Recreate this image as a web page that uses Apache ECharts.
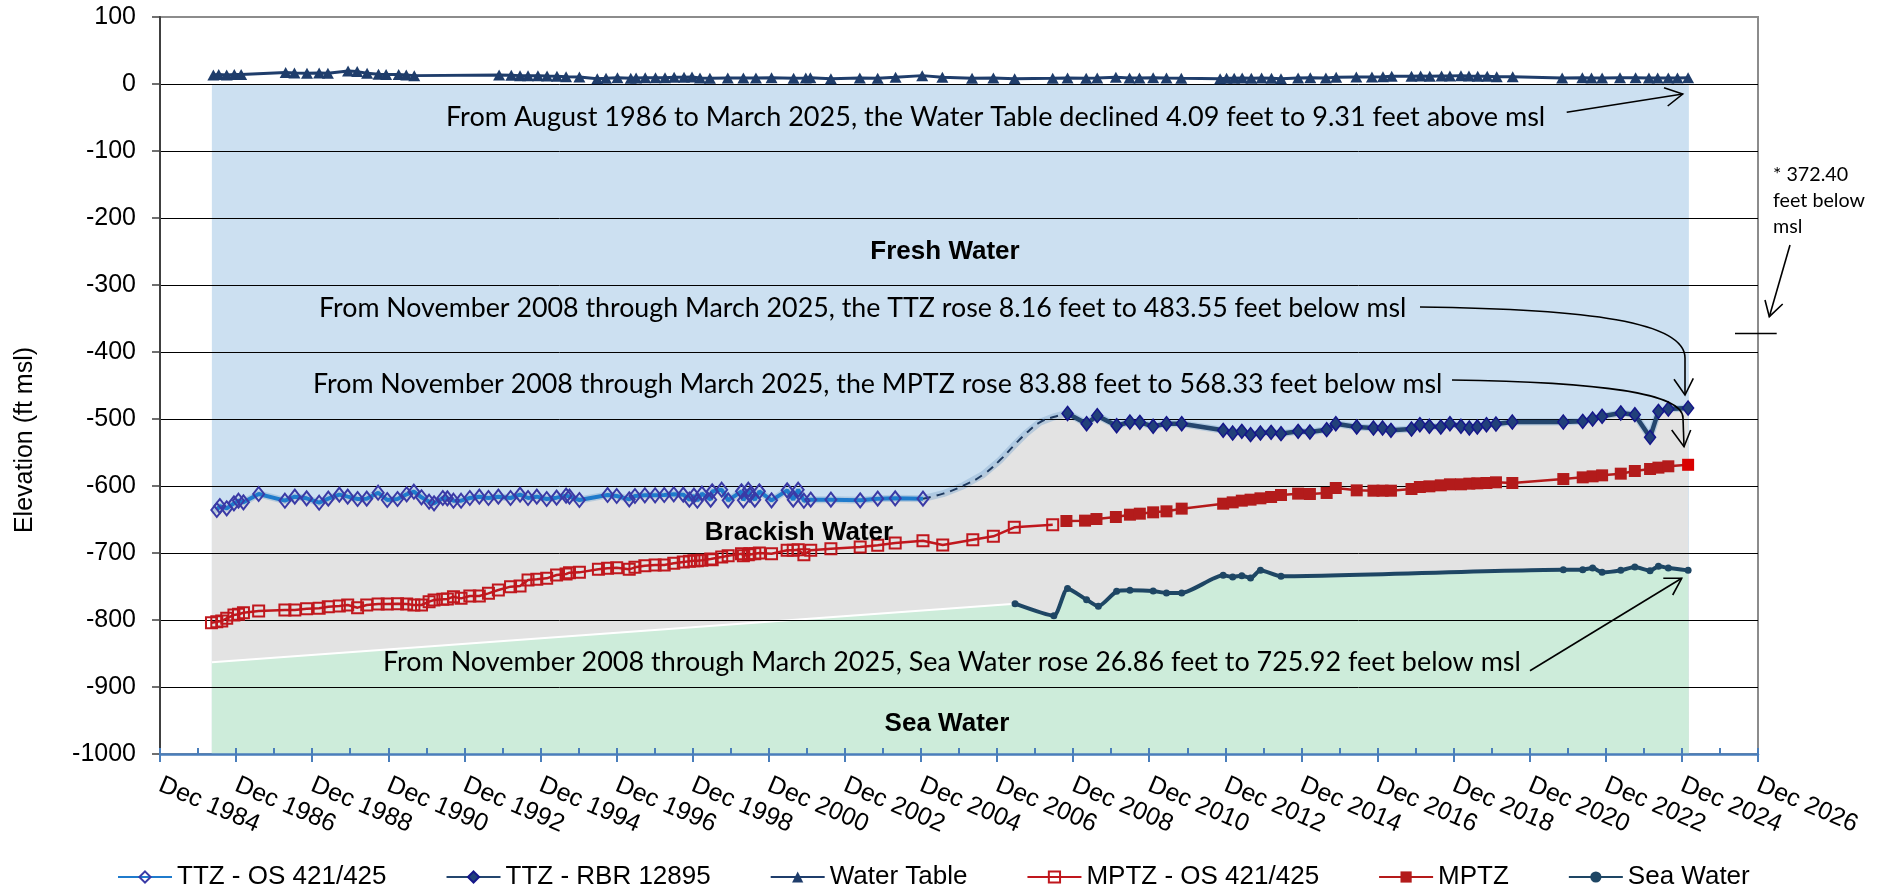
<!DOCTYPE html>
<html><head><meta charset="utf-8">
<script src="https://cdn.jsdelivr.net/npm/echarts@6/dist/echarts.min.js"></script>
<style>html,body{margin:0;padding:0;background:#fff}#c{width:1887px;height:889px}</style>
</head><body><div id="c"></div>
<script>
// ---------------- DATA (decimal years, elevation ft msl) ----------------
const axisStartYear = 1984.917;          // Dec 1984
const xTickLabels = ['Dec 1984','Dec 1986','Dec 1988','Dec 1990','Dec 1992','Dec 1994','Dec 1996','Dec 1998','Dec 2000','Dec 2002','Dec 2004','Dec 2006','Dec 2008','Dec 2010','Dec 2012','Dec 2014','Dec 2016','Dec 2018','Dec 2020','Dec 2022','Dec 2024','Dec 2026'];
const yMin = -1000, yMax = 100, yStep = 100;

const zoneStart = 1986.28, zoneEnd = 2025.1;
const freshTop = 0;
const seaBoundaryStart = -863;
const seaLevelMark = -372.40;

const ttzOs = [[1986.41,-635.8],[1986.49,-629.9],[1986.67,-633.3],[1986.86,-625.9],[1986.98,-621.9],[1987.11,-624.4],[1987.51,-611.9],[1988.20,-621.9],[1988.46,-615.9],[1988.77,-618.4],[1989.10,-624.9],[1989.34,-618.9],[1989.63,-612.9],[1989.85,-615.9],[1990.11,-619.4],[1990.35,-618.9],[1990.65,-610.0],[1990.89,-620.9],[1991.16,-619.4],[1991.40,-612.4],[1991.59,-608.5],[1991.79,-616.9],[1991.99,-623.4],[1992.12,-625.9],[1992.35,-617.9],[1992.47,-618.4],[1992.63,-621.9],[1992.83,-621.9],[1993.06,-617.9],[1993.31,-615.9],[1993.55,-617.9],[1993.81,-615.9],[1994.13,-617.9],[1994.38,-612.9],[1994.59,-617.9],[1994.82,-615.9],[1995.08,-619.4],[1995.34,-617.4],[1995.59,-614.4],[1995.68,-615.9],[1995.94,-620.9],[1996.68,-613.4],[1996.92,-614.9],[1997.25,-619.9],[1997.40,-614.9],[1997.66,-613.9],[1997.93,-613.9],[1998.17,-613.4],[1998.42,-612.4],[1998.67,-612.9],[1998.83,-620.4],[1998.95,-614.4],[1999.04,-621.9],[1999.16,-611.4],[1999.39,-620.4],[1999.43,-608.0],[1999.68,-605.5],[1999.85,-621.4],[2000.20,-608.0],[2000.25,-621.4],[2000.38,-605.5],[2000.42,-612.9],[2000.55,-620.4],[2000.67,-608.0],[2000.99,-621.4],[2001.40,-606.5],[2001.56,-620.4],[2001.69,-605.5],[2001.84,-621.9],[2002.02,-620.4],[2002.55,-620.4],[2003.32,-621.4],[2003.78,-618.9],[2004.24,-618.4],[2004.97,-618.9]];

const ttzGapCurve = [[2005.50,-611.4],[2006.03,-599.5],[2006.55,-583.1],[2006.99,-561.7],[2007.34,-540.8],[2007.69,-520.9],[2008.04,-505.0],[2008.40,-497.0]];

const ttzRbr = [[2008.77,-491.7],[2009.27,-507.0],[2009.55,-495.0],[2010.06,-510.0],[2010.41,-504.5],[2010.67,-505.0],[2011.02,-510.9],[2011.37,-507.0],[2011.77,-507.0],[2012.86,-516.9],[2013.11,-520.9],[2013.35,-518.4],[2013.58,-523.4],[2013.84,-520.9],[2014.12,-519.9],[2014.38,-521.9],[2014.83,-518.4],[2015.14,-519.4],[2015.58,-515.9],[2015.82,-507.0],[2016.37,-511.9],[2016.81,-513.4],[2017.05,-513.4],[2017.27,-516.9],[2017.81,-514.9],[2018.03,-508.5],[2018.28,-510.9],[2018.58,-511.9],[2018.82,-507.0],[2019.11,-510.9],[2019.33,-513.4],[2019.54,-511.9],[2019.78,-508.5],[2020.03,-507.5],[2020.46,-504.5],[2021.80,-504.5],[2022.31,-503.5],[2022.57,-500.0],[2022.82,-496.0],[2023.31,-491.0],[2023.68,-493.5],[2024.08,-527.4],[2024.30,-488.6],[2024.56,-485.1],[2025.08,-483.55]];

const waterTable = [[1986.32,13.4],[1986.46,14],[1986.67,13.5],[1986.87,14],[1987.05,14],[1988.22,17],[1988.45,16.5],[1988.78,16],[1989.10,16.5],[1989.33,16],[1989.86,19.5],[1990.10,18.5],[1990.36,16],[1990.66,14.5],[1990.86,14],[1991.19,14],[1991.39,13.5],[1991.60,12.5],[1993.83,13.5],[1994.15,13],[1994.38,12.5],[1994.59,12.5],[1994.85,12.5],[1995.09,12],[1995.35,11.5],[1995.59,11],[1995.94,10.5],[1996.41,8],[1996.64,8.5],[1996.94,9.5],[1997.29,8.5],[1997.43,9],[1997.67,9.5],[1997.94,9.5],[1998.19,9.5],[1998.43,10],[1998.69,10],[1998.90,10.5],[1999.11,9],[1999.37,8.5],[1999.84,9],[2000.25,9],[2000.58,9],[2000.99,9.5],[2001.57,8.5],[2001.89,9],[2002.01,9.5],[2002.55,8],[2003.31,9],[2003.78,8.5],[2004.25,10],[2004.95,12.5],[2005.48,10],[2006.26,8.5],[2006.82,9],[2007.38,8],[2008.38,8.5],[2008.77,9],[2009.26,8.5],[2009.55,9],[2010.04,10],[2010.40,9],[2010.66,9],[2011.02,9.5],[2011.37,9],[2011.76,8.5],[2012.78,8],[2012.95,8.5],[2013.15,8.5],[2013.36,9],[2013.60,8.5],[2013.87,9],[2014.13,8.5],[2014.38,8],[2014.83,9],[2015.15,9.5],[2015.56,9],[2015.83,10],[2016.36,10.5],[2016.77,10.5],[2017.06,11],[2017.29,11.5],[2017.81,11.5],[2018.05,12],[2018.29,11.5],[2018.60,12],[2018.82,12],[2019.11,12.5],[2019.32,12],[2019.55,11.5],[2019.80,11.5],[2020.05,11],[2020.47,11],[2021.77,9],[2022.30,9.5],[2022.54,9],[2022.82,9],[2023.29,9.5],[2023.70,9.5],[2024.05,9],[2024.28,9],[2024.56,9],[2024.80,9],[2025.08,9.31]];

const mptzOs = [[1986.27,-804.0],[1986.41,-802.5],[1986.54,-801.5],[1986.67,-797.5],[1986.86,-792.5],[1986.98,-791.5],[1987.11,-789.1],[1987.51,-786.6],[1988.20,-785.1],[1988.46,-785.1],[1988.77,-783.1],[1989.10,-782.6],[1989.34,-780.1],[1989.63,-779.1],[1989.85,-777.6],[1990.11,-781.6],[1990.35,-777.6],[1990.65,-776.1],[1990.89,-776.1],[1991.16,-775.6],[1991.40,-776.1],[1991.59,-777.6],[1991.79,-777.6],[1991.99,-772.6],[1992.12,-770.1],[1992.35,-769.2],[1992.47,-768.7],[1992.63,-765.2],[1992.83,-767.7],[1993.06,-764.2],[1993.31,-764.2],[1993.55,-760.2],[1993.81,-755.2],[1994.13,-750.2],[1994.38,-749.3],[1994.59,-740.3],[1994.82,-739.3],[1995.08,-737.8],[1995.34,-732.8],[1995.59,-731.3],[1995.68,-729.4],[1995.94,-728.9],[1996.44,-724.4],[1996.68,-722.9],[1996.92,-721.9],[1997.25,-724.4],[1997.40,-721.4],[1997.66,-718.9],[1997.93,-717.9],[1998.17,-717.9],[1998.42,-715.4],[1998.67,-713.4],[1998.83,-712.4],[1998.95,-711.4],[1999.04,-711.4],[1999.16,-710.9],[1999.39,-709.0],[1999.43,-710.0],[1999.68,-706.0],[1999.85,-704.0],[2000.20,-701.0],[2000.25,-704.0],[2000.38,-702.5],[2000.42,-701.0],[2000.55,-701.0],[2000.67,-700.0],[2000.99,-701.0],[2001.40,-696.0],[2001.56,-696.0],[2001.69,-695.0],[2001.84,-702.5],[2002.02,-696.0],[2002.55,-693.5],[2003.32,-691.0],[2003.78,-688.6],[2004.24,-685.1],[2004.97,-681.6],[2005.49,-688.1],[2006.28,-680.1],[2006.82,-675.1],[2007.37,-661.7],[2008.38,-657.7]];

const mptz = [[2008.74,-652.2],[2009.23,-651.7],[2009.53,-649.3],[2010.04,-646.3],[2010.41,-642.8],[2010.67,-641.3],[2011.02,-639.3],[2011.37,-637.8],[2011.77,-633.8],[2012.86,-626.4],[2013.11,-624.4],[2013.35,-621.9],[2013.58,-620.4],[2013.84,-618.4],[2014.12,-616.4],[2014.38,-613.4],[2014.83,-611.4],[2015.14,-611.9],[2015.58,-610.4],[2015.82,-603.0],[2016.37,-606.5],[2016.81,-607.0],[2017.05,-607.0],[2017.27,-607.0],[2017.81,-604.5],[2018.03,-601.5],[2018.28,-600.5],[2018.58,-599.0],[2018.82,-597.5],[2019.11,-597.5],[2019.33,-596.5],[2019.54,-596.0],[2019.78,-595.5],[2020.03,-594.5],[2020.46,-595.5],[2021.80,-589.6],[2022.31,-587.1],[2022.57,-585.6],[2022.82,-584.1],[2023.31,-581.6],[2023.68,-577.6],[2024.08,-574.6],[2024.30,-572.6],[2024.56,-570.6],[2025.08,-568.33]];

const seaWater = [[2007.39,-775.6],[2008.41,-793.5],[2008.77,-752.8],[2009.27,-769.7],[2009.58,-779.6],[2010.06,-757.2],[2010.41,-755.7],[2011.02,-756.7],[2011.37,-759.7],[2011.77,-759.7],[2012.86,-733.3],[2013.11,-735.8],[2013.35,-733.8],[2013.58,-737.3],[2013.84,-725.9],[2014.38,-734.8],[2021.80,-724.9],[2022.31,-724.9],[2022.57,-722.4],[2022.82,-728.9],[2023.31,-725.9],[2023.68,-720.9],[2024.08,-726.4],[2024.30,-719.9],[2024.56,-722.4],[2025.08,-725.92]];

const seriesNames = ['TTZ - OS 421/425','TTZ - RBR 12895','Water Table','MPTZ - OS 421/425','MPTZ','Sea Water'];
const zoneNames = ['Fresh Water','Brackish Water','Sea Water'];
const annotations = [
  'From August 1986 to March 2025, the Water Table declined 4.09 feet to 9.31 feet above msl',
  'From November 2008 through March 2025, the TTZ rose 8.16 feet to 483.55 feet below msl',
  'From November 2008 through March 2025, the MPTZ rose 83.88 feet to 568.33 feet below msl',
  'From November 2008 through March 2025, Sea Water rose 26.86 feet to 725.92 feet below msl'
];
const sideNote = ['* 372.40', 'feet below', 'msl'];

// ---------------- helpers ----------------
const toX = y => +(y - axisStartYear).toFixed(4);
const pts = arr => arr.map(p => [toX(p[0]), p[1]]);
const last = arr => arr[arr.length - 1];
const AR = 'Liberation Sans, Arial, sans-serif';
const CAL = 'Lato, Carlito, sans-serif';
const mctx = document.createElement('canvas').getContext('2d');
function fit(text, w, family, weight) {
  mctx.font = (weight || 'normal') + ' 100px ' + family;
  return 100 * w / mctx.measureText(text).width;
}

const blueFill = '#cce0f1', grayFill = '#e3e3e3', greenFill = '#cdecda';

const brackishTop = [[zoneStart, ttzOs[0][1]]].concat(ttzOs, ttzGapCurve, ttzRbr, [[zoneEnd, last(ttzRbr)[1]]]);
const seaTop = [[zoneStart, seaBoundaryStart]].concat(seaWater, [[zoneEnd, last(seaWater)[1]]]);
const gapLine = [last(ttzOs)].concat(ttzGapCurve, [ttzRbr[0]]);

const chart = echarts.init(document.getElementById('c'), null, {renderer: 'canvas'});

const option = {
  animation: false,
  backgroundColor: '#fff',
  grid: {left: 160, right: 129, top: 17, bottom: 135, containLabel: false, show: true, borderColor: '#8c8c8c', borderWidth: 2, backgroundColor: 'transparent'},
  legend: {
    data: seriesNames, left: 112, top: 859, itemWidth: 54, itemHeight: 14, itemGap: 59,
    textStyle: {fontFamily: AR, fontSize: 26, color: '#000'}, selectedMode: false
  },
  xAxis: [{
    type: 'value', position: 'bottom', min: 0, max: 42, interval: 2, z: 2,
    axisLine: {show: true, onZero: false, lineStyle: {color: '#4a7ebb', width: 2.5}},
    axisTick: {show: true, length: 8, lineStyle: {color: '#4a7ebb', width: 2}},
    splitLine: {show: false},
    axisLabel: {rotate: -23, margin: 30, fontFamily: AR, fontSize: 25, color: '#000',
      formatter: v => xTickLabels[Math.round(v / 2)] || ''}
  }, {
    type: 'value', position: 'bottom', min: 0, max: 42, interval: 1, z: 2,
    axisLine: {show: false, onZero: false}, axisLabel: {show: false}, splitLine: {show: false},
    axisTick: {show: true, inside: true, length: 6, lineStyle: {color: '#4a7ebb', width: 2}}
  }],
  yAxis: {
    type: 'value', min: yMin, max: yMax, interval: yStep, z: 2,
    axisLine: {show: true, lineStyle: {color: '#404040', width: 2}},
    axisTick: {show: true, length: 8, lineStyle: {color: '#404040', width: 1.5}},
    splitLine: {show: true, showMaxLine: false, showMinLine: false, lineStyle: {color: '#000', width: 1}},
    axisLabel: {margin: 24, fontFamily: AR, fontSize: 25, color: '#000', formatter: v => String(v)}
  },
  series: [
    {name: 'fresh-zone', type: 'line', z: 1, silent: true, symbol: 'none', data: pts([[zoneStart, freshTop], [zoneEnd, freshTop]]),
      lineStyle: {width: 0}, areaStyle: {color: blueFill, opacity: 1, origin: 'start'}},
    {name: 'brackish-zone', type: 'line', z: 1, silent: true, symbol: 'none', data: pts(brackishTop),
      lineStyle: {width: 7, color: 'rgba(150,182,214,0.55)'}, areaStyle: {color: grayFill, opacity: 1, origin: 'start'}},
    {name: 'sea-zone', type: 'line', z: 1, silent: true, symbol: 'none', data: pts(seaTop),
      lineStyle: {width: 2, color: '#ffffff'}, areaStyle: {color: greenFill, opacity: 1, origin: 'start'}},
    {name: 'ttz-gap', type: 'line', z: 3, silent: true, symbol: 'none', smooth: 0.5, data: pts(gapLine),
      lineStyle: {width: 2, color: '#1f3a5f', type: [8, 6]}},
    {name: seriesNames[0], type: 'line', z: 4, data: pts(ttzOs), symbol: 'diamond', symbolSize: [11, 14],
      lineStyle: {color: '#1f7bcc', width: 4}, itemStyle: {color: 'rgba(255,255,255,0)', borderColor: '#3a3aa6', borderWidth: 2}},
    {name: seriesNames[1], type: 'line', z: 4, data: pts(ttzRbr), symbol: 'diamond', symbolSize: [11, 14],
      lineStyle: {color: '#24466e', width: 4.5}, itemStyle: {color: '#21407a', borderColor: '#15168a', borderWidth: 1.5}},
    {name: seriesNames[2], type: 'line', z: 4, data: pts(waterTable), symbol: 'triangle', symbolSize: [12, 11],
      lineStyle: {color: '#1f3d6b', width: 3}, itemStyle: {color: '#1f3d6b'}},
    {name: seriesNames[3], type: 'line', z: 4, data: pts(mptzOs), symbol: 'rect', symbolSize: 11,
      lineStyle: {color: '#c0171d', width: 2.5}, itemStyle: {color: 'rgba(255,255,255,0)', borderColor: '#c0171d', borderWidth: 2}},
    {name: seriesNames[4], type: 'line', z: 4, symbol: 'rect', symbolSize: 12,
      data: pts(mptz).map((p, i, a) => i === a.length - 1 ? {value: p, itemStyle: {color: '#d90000'}} : p),
      lineStyle: {color: '#b51a1a', width: 2.5}, itemStyle: {color: '#b31b1b'}},
    {name: seriesNames[5], type: 'line', z: 4, data: pts(seaWater), symbol: 'circle', symbolSize: 7, smooth: 0.2,
      lineStyle: {color: '#1e4664', width: 4}, itemStyle: {color: '#1e4664'}}
  ]
};
chart.setOption(option);

// ---------------- annotations ----------------
const K = '#000';
const ln = (x1, y1, x2, y2) => ({type: 'line', z: 100, silent: true, shape: {x1, y1, x2, y2}, style: {stroke: K, lineWidth: 1.6}});
const head = (ax, ay, tx, ty, bx, by) => ({type: 'polyline', z: 100, silent: true, shape: {points: [[ax, ay], [tx, ty], [bx, by]]}, style: {stroke: K, lineWidth: 1.6, fill: null}});
const bez = (x1, y1, cx1, cy1, cx2, cy2, x2, y2) => ({type: 'bezierCurve', z: 100, silent: true, shape: {x1, y1, cpx1: cx1, cpy1: cy1, cpx2: cx2, cpy2: cy2, x2, y2}, style: {stroke: K, lineWidth: 1.6, fill: null}});
const txt = (t, x, y, size, family, weight, align) => ({type: 'text', z: 100, silent: true,
  style: {text: t, x, y, fill: K, fontSize: size, fontFamily: family, fontWeight: weight || 'normal', align: align || 'left', verticalAlign: 'middle'}});

const annBoxes = [[446, 117, 1100], [319, 308, 1088], [313, 384, 1130], [383, 662, 1138]];
const markY = chart.convertToPixel({yAxisIndex: 0}, seaLevelMark);
const sideSize = fit('feet below', 92, CAL);

const elements = [
  txt(zoneNames[0], 945, 252, 26, AR, 'bold', 'center'),
  txt(zoneNames[1], 799, 533, 26, AR, 'bold', 'center'),
  txt(zoneNames[2], 947, 724, 26, AR, 'bold', 'center'),
  // water table arrow
  ln(1566.7, 112.3, 1682.7, 94), head(1664, 87.7, 1682.7, 94, 1667.7, 106),
  // TTZ arrow
  bez(1420, 307, 1590, 309, 1685, 322, 1685, 358), ln(1685, 358, 1685, 395), head(1674, 379.3, 1685, 395, 1693.3, 378.3),
  // MPTZ arrow
  bez(1452, 380, 1600, 382, 1683, 393, 1683, 418), ln(1683, 418, 1684, 446.7), head(1671.7, 430, 1684, 446.7, 1690.7, 430),
  // sea water arrow
  ln(1530, 670.7, 1681.7, 578.3), head(1663.3, 578.3, 1681.7, 578.3, 1672.7, 595),
  // side note arrow + mark
  ln(1790, 245, 1769.3, 316.7), head(1765, 300, 1769.3, 316.7, 1782.7, 304),
  ln(1735, markY, 1776.7, markY),
  txt(sideNote[0], 1773, 175, sideSize, CAL),
  txt(sideNote[1], 1773, 201, sideSize, CAL),
  txt(sideNote[2], 1773, 227, sideSize, CAL)
];
annotations.forEach((t, i) => {
  const b = annBoxes[i];
  elements.push(txt(t, b[0], b[1], fit(t, b[2], CAL), CAL));
});
// y-axis title
elements.push({type: 'text', z: 100, silent: true, x: 25, y: 440, rotation: Math.PI / 2,
  style: {text: 'Elevation (ft msl)', x: 0, y: 0, fill: K, fontSize: 25, fontFamily: AR, align: 'center', verticalAlign: 'middle'}});

chart.setOption({graphic: {elements}});
</script>
</body></html>
